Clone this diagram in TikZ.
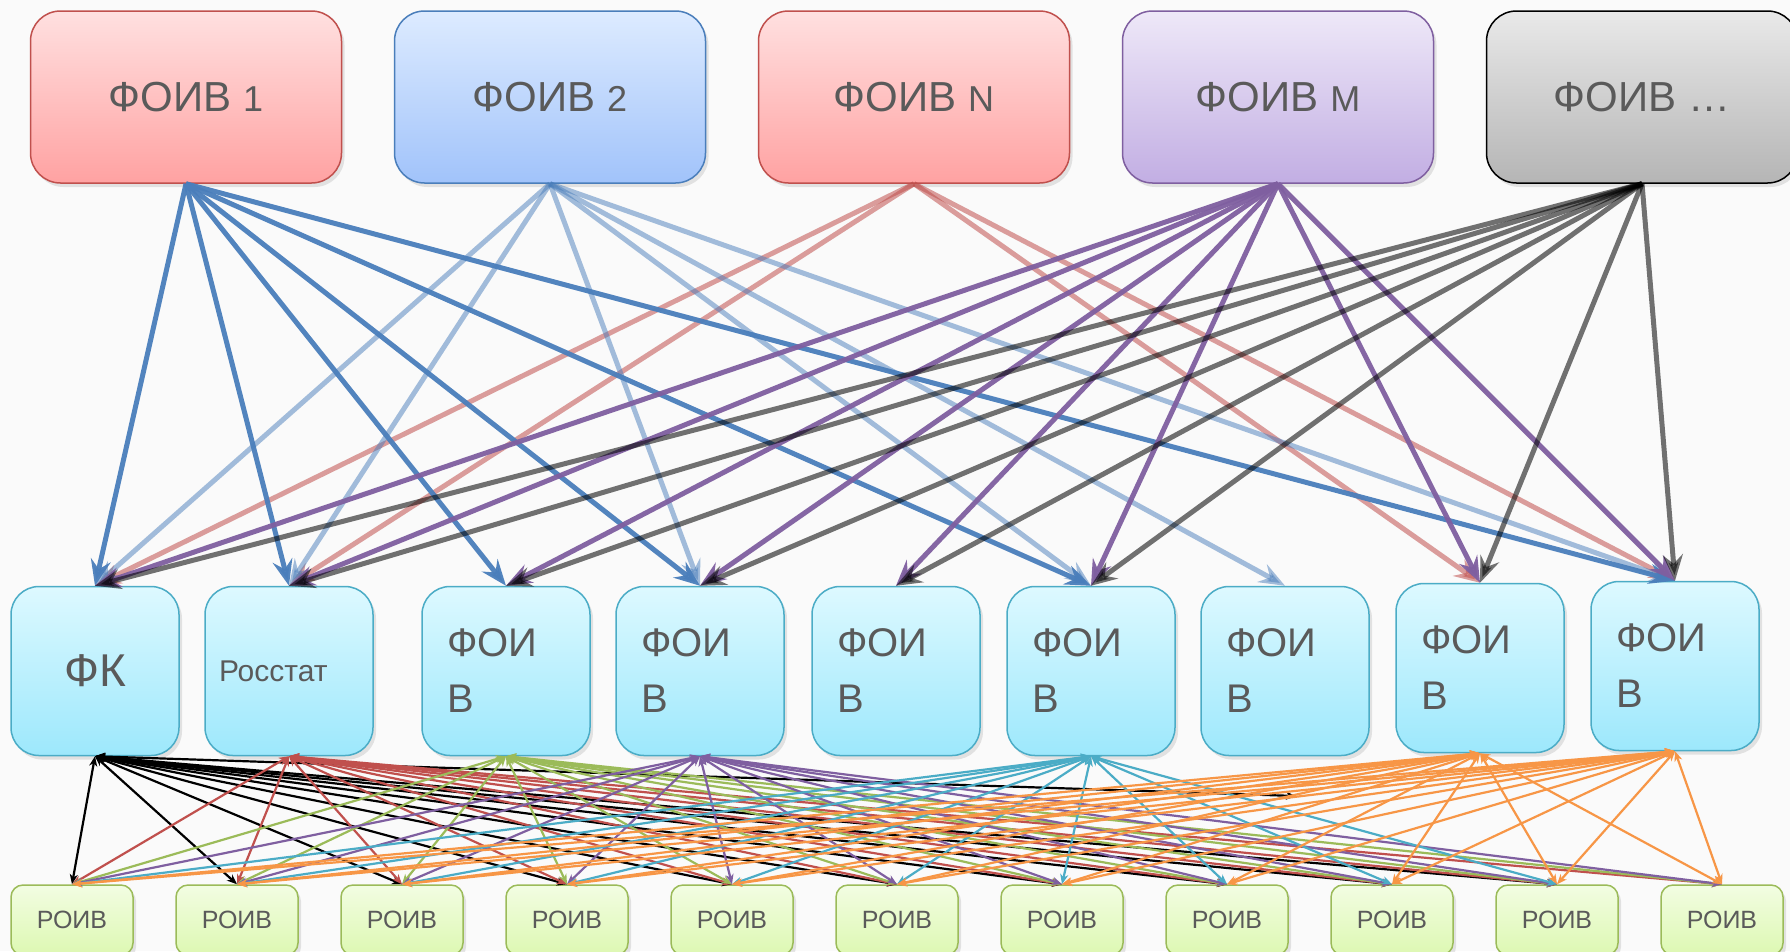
\documentclass[tikz,border=0pt]{standalone}
\usepackage{fontspec}
\setmainfont{Liberation Sans}
\usetikzlibrary{arrows.meta,shadows}
\definecolor{bg}{HTML}{FAFAFA}
\definecolor{txt}{HTML}{5A5A5A}
\definecolor{redline}{HTML}{C0504D}
\definecolor{blueline}{HTML}{4A7EBB}
\definecolor{violetline}{HTML}{7F5FA0}
\definecolor{greenline}{HTML}{9BBB59}
\definecolor{aqualine}{HTML}{4BACC6}
\definecolor{orangeline}{HTML}{F79646}
\definecolor{pinktop}{HTML}{FFE0E0}
\definecolor{pinkbot}{HTML}{FFA2A2}
\definecolor{bluetop}{HTML}{DDEBFF}
\definecolor{bluebot}{HTML}{A1C3FA}
\definecolor{lilactop}{HTML}{EEE8F8}
\definecolor{lilacbot}{HTML}{C2AEE3}
\definecolor{greytop}{HTML}{E9E9E9}
\definecolor{greybot}{HTML}{B5B5B5}
\definecolor{aquatop}{HTML}{DDF9FF}
\definecolor{aquabot}{HTML}{9DE8FC}
\definecolor{limetop}{HTML}{F2FDE2}
\definecolor{limebot}{HTML}{DDF8B2}
\newcommand\sfxtext[1]{{\fontsize{36}{40}\selectfont #1}}
\tikzset{
    box/.style={line width=1.5pt, text=txt, drop shadow={opacity=0.2, shadow xshift=3pt, shadow yshift=-4pt}},
    topbox/.style={box, rounded corners=30pt, minimum width=311pt, minimum height=172pt, font=\fontsize{42}{50}\selectfont},
    midbox/.style={box, rounded corners=28pt, draw=aqualine, top color=aquatop, bottom color=aquabot, minimum width=168pt, minimum height=169pt, text width=118pt, align=left, font=\fontsize{40}{56}\selectfont},
    roiv/.style={box, rounded corners=12pt, draw=greenline, top color=limetop, bottom color=limebot, minimum width=122pt, minimum height=70pt, font=\fontsize{25}{30}\selectfont},
    down/.style={line width=5pt, -{Stealth[length=26pt,width=20pt,inset=9pt]}},
    both/.style={line width=2.2pt, {Stealth[length=10pt,width=8pt,inset=3pt]}-{Stealth[length=10pt,width=8pt,inset=3pt]}}
}
\begin{document}
\begin{tikzpicture}[x=1pt,y=-1pt]
\useasboundingbox (0,0) rectangle (1790,951);
\clip (0,0) rectangle (1790,951);
\fill[bg] (0,0) rectangle (1790,951);

% federal bodies
\node[topbox, draw=redline, top color=pinktop, bottom color=pinkbot] (t1) at (186,97) {ФОИВ \sfxtext{1}};
\node[topbox, draw=blueline, top color=bluetop, bottom color=bluebot] (t2) at (550,97) {ФОИВ \sfxtext{2}};
\node[topbox, draw=redline, top color=pinktop, bottom color=pinkbot] (t3) at (914,97) {ФОИВ \sfxtext{N}};
\node[topbox, draw=violetline, top color=lilactop, bottom color=lilacbot] (t4) at (1278,97) {ФОИВ \sfxtext{M}};
\node[topbox, draw=black, top color=greytop, bottom color=greybot] (t5) at (1642,97) {ФОИВ …};

% middle row
\node[midbox, align=center, font=\fontsize{46}{56}\selectfont] (m1) at (95,671) {ФК};
\node[midbox, text width=140pt, font=\fontsize{30}{36}\selectfont] (m2) at (289,671) {Росстат};
\foreach \i/\x in {3/506,4/700,5/896,6/1091,7/1285}
    \node[midbox] (m\i) at (\x,671) {ФОИ\\В};
\node[midbox] (m8) at (1480,668) {ФОИ\\В};
\node[midbox] (m9) at (1675,666) {ФОИ\\В};

% regional bodies
\foreach \j in {1,...,11}
    \node[roiv] (r\j) at ({72+165*(\j-1)},920) {РОИВ};

% top links
\foreach \t/\col/\op/\list in {t3/redline/0.55/{1,2,8,9}, t2/blueline/0.5/{1,2,4,6,7,9}, t1/blueline/0.95/{1,2,3,4,6,9}, t4/violetline/0.95/{1,2,3,4,5,6,8,9}, t5/black/0.55/{1,2,3,4,5,6,8,9}}
    \foreach \k in \list
        \draw[down, color=\col, opacity=\op] (\t.south) -- (m\k.north);

% bottom links
\coordinate (stray) at (1296,796);
\draw[both, color=black] (m1.south) -- (stray);
\foreach \m/\col/\n in {m1/black/10, m2/redline/11, m3/greenline/11, m4/violetline/11, m6/aqualine/10, m8/orangeline/11, m9/orangeline/11}
    \foreach \j in {1,...,\n}
        \draw[both, color=\col] (\m.south) -- (r\j.north);
\end{tikzpicture}
\end{document}
